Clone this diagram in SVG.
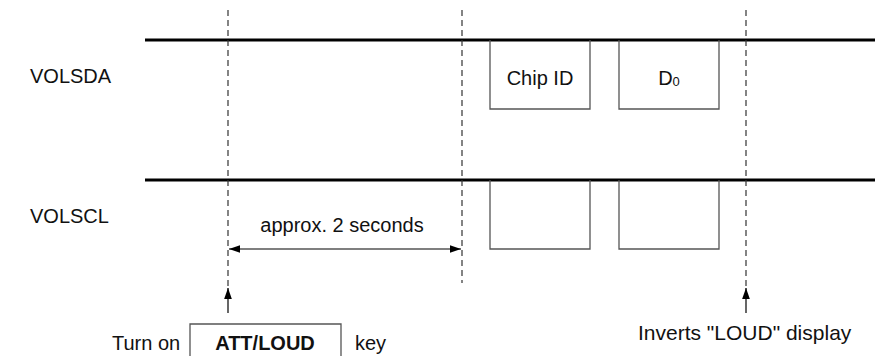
<svg xmlns="http://www.w3.org/2000/svg" width="875" height="356" viewBox="0 0 875 356">
<defs>
<style>
.sig{stroke:#000;stroke-width:3;fill:none}
.dash{stroke:#333;stroke-width:1.2;stroke-dasharray:6,4;fill:none}
.box{stroke:#555;stroke-width:1.3;fill:none}
.arr{stroke:#000;stroke-width:1.2;fill:none}
text{font-family:"Liberation Sans",Arial,sans-serif;font-size:20px;fill:#111}
.b{font-weight:bold}
</style>
<marker id="ah" viewBox="0 0 10 10" refX="10" refY="5" markerWidth="11" markerHeight="11" markerUnits="userSpaceOnUse" orient="auto-start-reverse">
<path d="M0,1.5 L10,5 L0,8.5 Z" fill="#000"/>
</marker>
</defs>
<rect width="875" height="356" fill="#fff"/>
<g id="signals">
<line class="sig" x1="145" y1="40" x2="875" y2="40"/>
<line class="sig" x1="145" y1="180" x2="875" y2="180"/>
</g>
<g id="labels">
<text x="30" y="83">VOLSDA</text>
<text x="30" y="223">VOLSCL</text>
</g>
<g id="sda-chipid">
<polyline class="box" points="490,40 490,109 590,109 590,40"/>
<text x="540" y="85" text-anchor="middle">Chip ID</text>
</g>
<g id="sda-d0">
<polyline class="box" points="619,40 619,109 719,109 719,40"/>
<text x="669" y="85" text-anchor="middle">D<tspan font-size="13" dy="1">0</tspan></text>
</g>
<g id="scl-pulse1">
<polyline class="box" points="490,180 490,249 590,249 590,180"/>
</g>
<g id="scl-pulse2">
<polyline class="box" points="619,180 619,249 719,249 719,180"/>
</g>
<g id="markers">
<line class="dash" x1="228" y1="10" x2="228" y2="290"/>
<line class="dash" x1="462" y1="10" x2="462" y2="283"/>
<line class="dash" x1="746" y1="10" x2="746" y2="290"/>
</g>
<g id="connectors">
<line class="arr" x1="229" y1="249" x2="461" y2="249" marker-start="url(#ah)" marker-end="url(#ah)"/>
<line class="arr" x1="228" y1="313" x2="228" y2="288" marker-end="url(#ah)"/>
<line class="arr" x1="746" y1="313" x2="746" y2="288" marker-end="url(#ah)"/>
</g>
<g id="duration">
<text x="342" y="232" text-anchor="middle">approx. 2 seconds</text>
</g>
<g id="key-label">
<text x="112" y="350">Turn on</text>
<polyline class="box" points="190,360 190,324 341,324 341,360"/>
<text class="b" x="265" y="350" text-anchor="middle">ATT/LOUD</text>
<text x="355" y="350">key</text>
</g>
<g id="display-label">
<text x="638" y="340" style="font-size:21px">Inverts "LOUD" display</text>
</g>
</svg>
